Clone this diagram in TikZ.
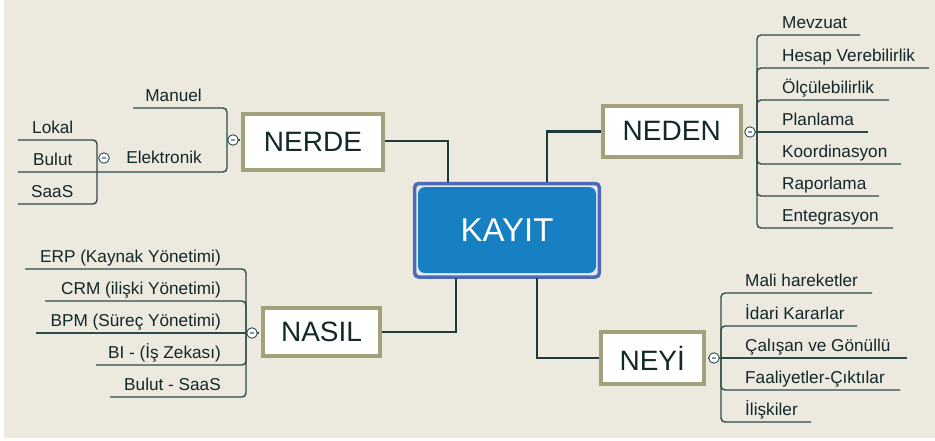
\documentclass[tikz,border=0pt]{standalone}
\usepackage{fontspec}
\setmainfont{Liberation Sans}
\definecolor{bg}{HTML}{ECE9DE}
\definecolor{ln}{HTML}{1F3A3A}
\definecolor{br}{HTML}{2E4B4B}
\definecolor{olive}{HTML}{A3A07C}
\definecolor{kblue}{HTML}{1780C2}
\definecolor{kborder}{HTML}{4E69B6}
\definecolor{kgap}{HTML}{E4EAF0}
\definecolor{txt}{HTML}{132828}
\definecolor{minus}{HTML}{8090C8}
\tikzset{
  topic/.style={draw=olive, line width=4pt, fill=white, inner sep=0pt, text=txt,
    font=\fontsize{28}{32}\selectfont},
  leaf/.style={inner sep=0pt, text=txt, font=\fontsize{17.2}{20}\selectfont},
  mainline/.style={draw=ln, line width=2.6pt},
  twig/.style={draw=br, line width=1.4pt, rounded corners=4pt},
  knob/.style={circle, draw=br, line width=0.9pt, fill=white, minimum size=10.5pt, inner sep=0pt,
    path picture={\draw[minus, line width=1.3pt]
      ([xshift=-2.2pt]path picture bounding box.center) -- ([xshift=2.2pt]path picture bounding box.center);}}
}
\begin{document}
\begin{tikzpicture}[x=1pt,y=-1pt]
\useasboundingbox (0,0) rectangle (935,440);
\fill[white] (0,0) rectangle (935,440);
\fill[bg] (4,0) rectangle (935,438);

% central node
\node[draw=kborder, line width=3.5pt, fill=kgap, rounded corners=4pt,
      minimum width=184.7pt, minimum height=93.5pt, inner sep=0pt] (kayit) at (507,230.25) {};
\node[fill=kblue, rounded corners=7pt, minimum width=178pt, minimum height=86pt, inner sep=0pt,
      text=white, font=\fontsize{33}{38}\selectfont] (kayittext) at (507,230) {KAYIT};

% topics
\node[topic, minimum width=140pt, minimum height=56pt] (nerde) at (313,142) {NERDE};
\node[topic, minimum width=137.5pt, minimum height=51.5pt] (neden) at (671.75,131.25) {NEDEN};
\node[topic, minimum width=117pt, minimum height=47.5pt] (nasil) at (321.5,331.75) {NASIL};
\node[topic, minimum width=103.5pt, minimum height=52pt] (neyi) at (652.25,358) {NEYİ};

% main connectors
\coordinate (k1) at (448,182);
\coordinate (k2) at (547,182);
\coordinate (k3) at (456,278);
\coordinate (k4) at (537,278);
\draw[mainline] (nerde.east |- 0,141) -| (k1);
\draw[mainline] (k2) |- (neden.west);
\draw[mainline] (nasil.east |- 0,332) -| (k3);
\draw[mainline] (k4) |- (neyi.west);

% NEDEN branch
\foreach \y/\e in {35/860, 68/929, 100/889, 164/901, 196/879, 228/893}
  \draw[twig] (757,132) -- (757,\y) -- (\e,\y);
\draw[twig] (745,132) -- (868,132);
\node[leaf, anchor=base west] (m1) at (782,28) {Mevzuat};
\node[leaf, anchor=base west] (m2) at (782,61) {Hesap Verebilirlik};
\node[leaf, anchor=base west] (m3) at (782,93) {Ölçülebilirlik};
\node[leaf, anchor=base west] (m4) at (782,125) {Planlama};
\node[leaf, anchor=base west] (m5) at (782,157) {Koordinasyon};
\node[leaf, anchor=base west] (m6) at (782,189) {Raporlama};
\node[leaf, anchor=base west] (m7) at (782,221) {Entegrasyon};

% NEYI branch
\foreach \y/\e in {293/872, 326/857, 390/900, 422/811}
  \draw[twig] (721,358) -- (721,\y) -- (\e,\y);
\draw[twig] (708,358) -- (907,358);
\node[leaf, anchor=base west] (y1) at (745,286.5) {Mali hareketler};
\node[leaf, anchor=base west] (y2) at (745,319.5) {İdari Kararlar};
\node[leaf, anchor=base west] (y3) at (745,351.5) {Çalışan ve Gönüllü};
\node[leaf, anchor=base west] (y4) at (745,383.5) {Faaliyetler-Çıktılar};
\node[leaf, anchor=base west] (y5) at (745,415.5) {İlişkiler};

% NASIL branch
\foreach \y/\e in {269/25, 301/45, 365/96, 397/110}
  \draw[twig] (246,333) -- (246,\y) -- (\e,\y);
\draw[twig] (259,333) -- (36,333);
\node[leaf, anchor=base east] (s1) at (221,262) {ERP (Kaynak Yönetimi)};
\node[leaf, anchor=base east] (s2) at (221,294.5) {CRM (ilişki Yönetimi)};
\node[leaf, anchor=base east] (s3) at (221,326.5) {BPM (Süreç Yönetimi)};
\node[leaf, anchor=base east] (s4) at (221,358.5) {BI - (İş Zekası)};
\node[leaf, anchor=base east] (s5) at (221,390.5) {Bulut - SaaS};

% NERDE branch
\draw[br, line width=1.4pt] (240,140) -- (227,140);
\draw[twig] (227,140) -- (227,108) -- (133,108);
\draw[twig] (227,140) -- (227,172) -- (18,172);
\draw[twig] (18,140) -- (97,140) -- (97,204) -- (18,204);
\node[leaf, anchor=base east] (r1) at (202,101.5) {Manuel};
\node[leaf, anchor=base east] (r2) at (202,163.5) {Elektronik};
\node[leaf, anchor=base west] (r3) at (32,133) {Lokal};
\node[leaf, anchor=base west] (r4) at (33,165) {Bulut};
\node[leaf, anchor=base west] (r5) at (31,197) {SaaS};

% collapse knobs
\node[knob] (cnerde) at (233,140) {};
\node[knob] (cneden) at (750,132) {};
\node[knob] (cnasil) at (252,333) {};
\node[knob] (cneyi) at (714,358) {};
\node[knob] (celek) at (104,158) {};
\end{tikzpicture}
\end{document}
